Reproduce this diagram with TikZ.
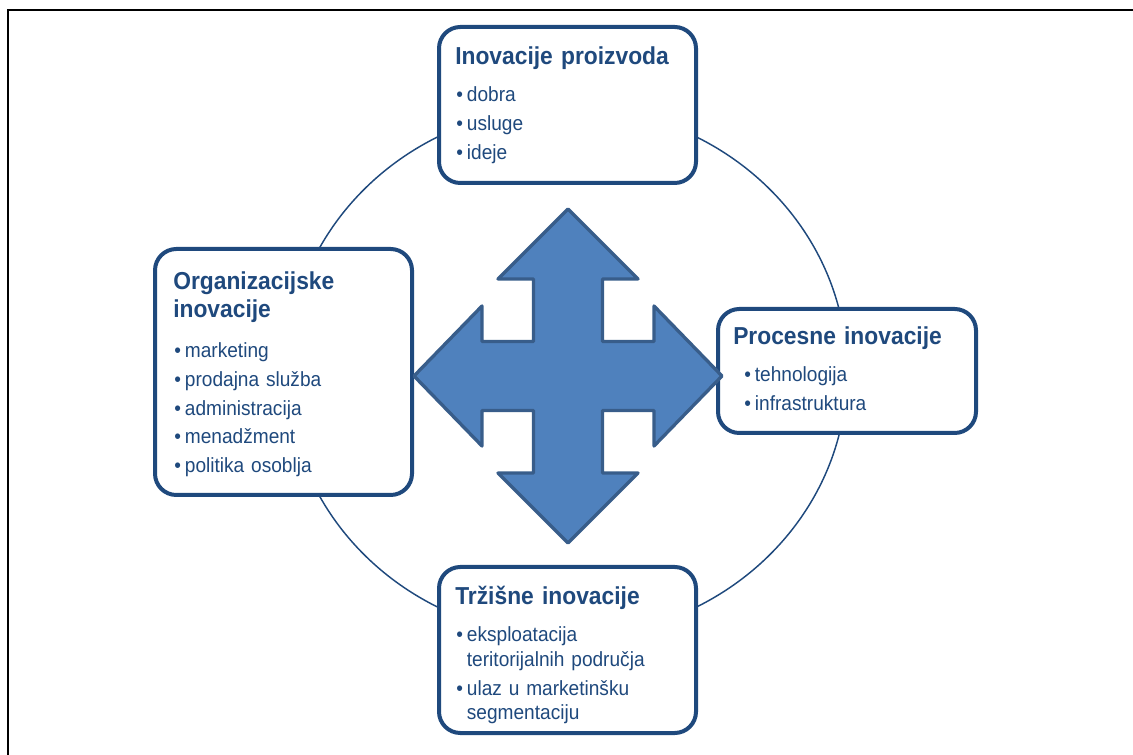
\documentclass[tikz,border=0pt]{standalone}
\usepackage{fontspec}
\setmainfont[FakeStretch=0.93]{Liberation Sans}
\usetikzlibrary{positioning}
\definecolor{darkblue}{HTML}{1F497D}
\definecolor{arrowfill}{HTML}{4F81BD}
\definecolor{arrowline}{HTML}{385D8A}
\newcommand{\bul}{\makebox[8pt][l]{\textbullet}}
\newcommand{\nobul}{\hspace*{8pt}}

\begin{document}
\begin{tikzpicture}[x=0.75pt,y=-0.75pt,
    box/.style={draw=darkblue,line width=3pt,rounded corners=16pt,fill=white,minimum width=192.75pt,inner sep=0pt},
    ttl/.style={text=darkblue,font=\fontsize{18.4}{21}\selectfont\bfseries,text width=180pt,align=left,inner sep=0pt,anchor=base west},
    itm/.style={text=darkblue,font=\fontsize{15.4}{21.5}\selectfont,text width=180pt,align=left,inner sep=0pt,anchor=base west}]
    \useasboundingbox (0,0) rectangle (1133,755);
    \draw[line width=1.5pt] (8,755) |- (1133,10);
    \draw[darkblue,line width=1.1pt] (567,372) ellipse [x radius=280,y radius=265];
    % boxes
    \node[box,minimum height=117pt] (prod) at (567.5,105) {};
    \node[box,minimum height=184.5pt] (org) at (283.5,372) {};
    \node[box,minimum width=193.5pt,minimum height=93pt] (proc) at (847,371) {};
    \node[box,minimum height=124.5pt] (trz) at (567.5,650) {};
    % texts
    \node[ttl] (prodT) at (455,65) {Inovacije proizvoda};
    \node[itm] (prodI) at (456,102) {\bul dobra\\ \bul usluge\\ \bul ideje};
    \node[ttl] (orgT) at (173,290) {Organizacijske\\inovacije};
    \node[itm] (orgI) at (174,358) {\bul marketing\\ \bul prodajna služba\\ \bul administracija\\ \bul menadžment\\ \bul politika osoblja};
    \node[ttl] (procT) at (733,345) {Procesne inovacije};
    \node[itm] (procI) at (744,382) {\bul tehnologija\\ \bul infrastruktura};
    \node[ttl] (trzT) at (455,605) {Tržišne inovacije};
    \node[itm] (trzI) at (456,642) {\bul eksploatacija\\[-3pt] \nobul teritorijalnih područja\\ \bul ulaz u marketinšku\\[-3pt] \nobul segmentaciju};
    % four-way arrow
    \draw[shift={(568,376)},fill=arrowfill,draw=arrowline,line width=2.5pt,line join=round]
        (0,-167) -- (70,-97) -- (34.5,-97) -- (34.5,-34.5) -- (86,-34.5) -- (86,-70) -- (154,0)
        -- (86,70) -- (86,34.5) -- (34.5,34.5) -- (34.5,97) -- (70,97) -- (0,167)
        -- (-70,97) -- (-34.5,97) -- (-34.5,34.5) -- (-86,34.5) -- (-86,70) -- (-154,0)
        -- (-86,-70) -- (-86,-34.5) -- (-34.5,-34.5) -- (-34.5,-97) -- (-70,-97) -- cycle;
\end{tikzpicture}
\end{document}
